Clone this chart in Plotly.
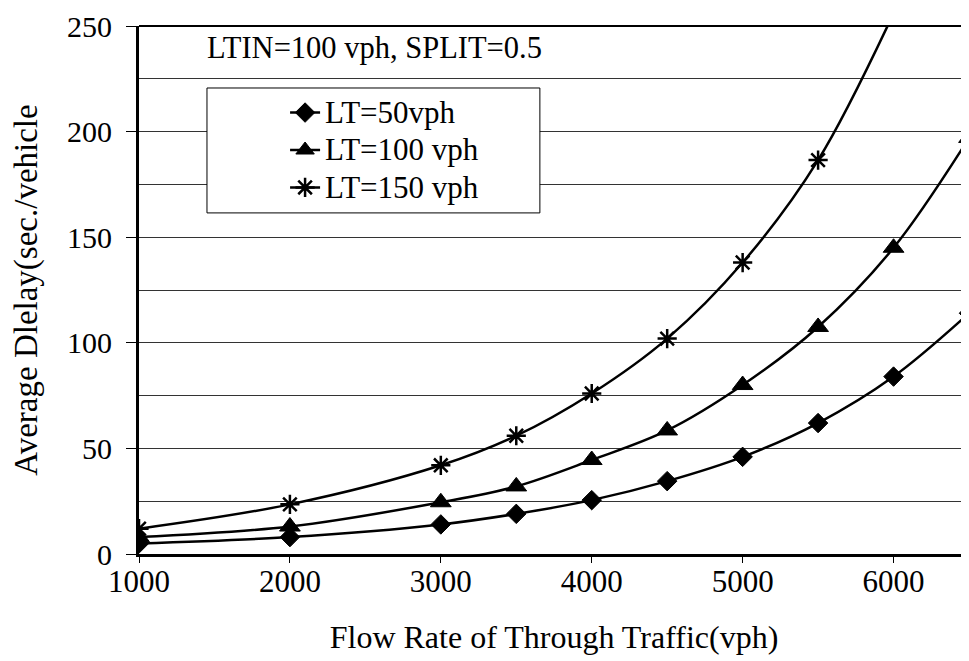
import plotly.graph_objects as go

flow = [1000, 2000, 3000, 3500, 4000, 4500, 5000, 5500, 6000, 6500]
lt50 = [5, 8, 14, 19, 25.5, 34.5, 46, 62, 84, 114]
lt100 = [8, 13, 24.5, 32, 44.5, 58.5, 80, 107.5, 145, 197]
flow150 = [1000, 2000, 3000, 3500, 4000, 4500, 5000, 5500, 6000]
lt150 = [12, 23.5, 42, 56, 76, 102, 138, 186.5, 256]

names = ["LT=50vph", "LT=100 vph", "LT=150 vph"]
FONT = "'Times New Roman', 'Liberation Serif', 'DejaVu Serif', serif"

fig = go.Figure()
series = [
    (flow, lt50, names[0], "diamond", 15, 1),
    (flow, lt100, names[1], "triangle-up", 18, 1),
    (flow150, lt150, names[2], "asterisk-open", 16, 2.5),
]
for xs, ys, nm, sym, sz, lw in series:
    fig.add_trace(go.Scatter(
        x=xs, y=ys, name='<span style="font-size:31px">' + nm + '</span>',
        mode="lines+markers",
        line=dict(color="black", width=2.5, shape="spline", smoothing=1),
        marker=dict(symbol=sym, size=sz, color="black",
                    line=dict(color="black", width=lw)),
        cliponaxis=True,
    ))

fig.update_layout(
    width=961, height=653,
    margin=dict(l=131, r=0, t=18, b=107),
    paper_bgcolor="white", plot_bgcolor="white",
    font=dict(family=FONT, color="black", size=30),
    showlegend=True,
    legend=dict(
        x=0.176, y=0.881, xanchor="left", yanchor="top",
        bgcolor="rgba(0,0,0,0)", borderwidth=0,
        font=dict(family=FONT, size=26.5, color="black"),
        tracegroupgap=0, itemwidth=30,
    ),
    xaxis=dict(
        range=[1000, 6500], tick0=1000, dtick=1000,
        showgrid=False, zeroline=False,
        showline=True, linecolor="black", linewidth=3,
        ticks="outside", ticklen=6, tickwidth=1, tickcolor="black",
        ticklabelstandoff=-8,
        tickfont=dict(family=FONT, size=31),
        title=dict(text="Flow Rate of Through Traffic(vph)",
                   font=dict(family=FONT, size=32), standoff=28),
    ),
    yaxis=dict(
        range=[0, 250], tick0=0, dtick=50,
        showgrid=True, gridcolor="#333", gridwidth=1,
        minor=dict(dtick=25, showgrid=True, gridcolor="#333", gridwidth=1),
        zeroline=False,
        showline=True, linecolor="black", linewidth=3,
        ticks="outside", ticklen=10, tickwidth=1, tickcolor="black",
        ticklabelstandoff=8,
        tickfont=dict(family=FONT, size=30),
        title=dict(text="Average Dlelay(sec./vehicle",
                   font=dict(family=FONT, size=33), standoff=20),
    ),
    shapes=[
        dict(type="rect", xref="paper", yref="paper",
             x0=0.0819, x1=0.483, y0=0.646, y1=0.8826,
             fillcolor="white", line=dict(color="black", width=1),
             layer="above"),
        dict(type="line", xref="paper", yref="paper",
             x0=0, x1=1, y0=1, y1=1,
             line=dict(color="black", width=2), layer="above"),
    ],
    annotations=[
        dict(text="LTIN=100 vph, SPLIT=0.5", xref="paper", yref="paper",
             x=0.0795, y=0.958, xanchor="left", yanchor="middle",
             showarrow=False, font=dict(family=FONT, size=30.5, color="black")),
    ],
)

fig.write_html("out.html")
